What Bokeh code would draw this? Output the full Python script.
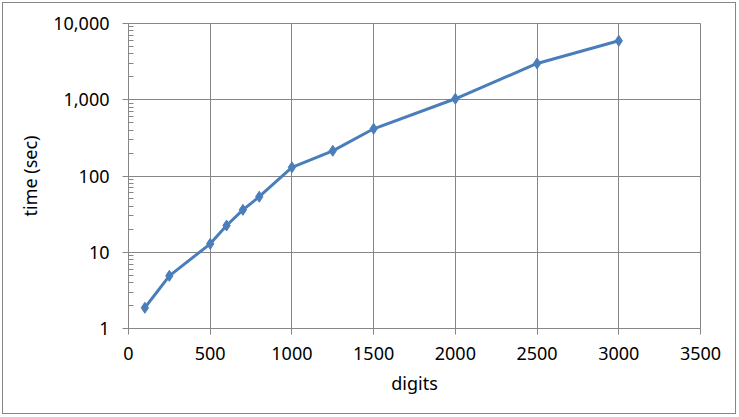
from bokeh.plotting import figure
from bokeh.models import FixedTicker, NumeralTickFormatter, ColumnDataSource
from bokeh.embed import file_html
from bokeh.resources import INLINE

digits = [100, 250, 500, 600, 700, 800, 1000, 1250, 1500, 2000, 2500, 3000]
time_sec = [1.87, 4.9, 12.9, 22.4, 36, 53.5, 130, 214, 416, 1030, 2990, 5930]

x_ticks = [0, 500, 1000, 1500, 2000, 2500, 3000, 3500]
y_ticks = [1, 10, 100, 1000, 10000]
y_minor = [m * d for d in [1, 10, 100, 1000] for m in range(2, 10)]

FONT = "Noto Sans"
GRID = "#868686"
BLUE = "#4A7EBB"

p = figure(width=734, height=412, x_range=(0, 3500), y_range=(1, 10000),
           y_axis_type="log", output_backend="svg", toolbar_location=None,
           min_border_left=125, min_border_right=37, min_border_top=20,
           min_border_bottom=87)
p.styles = {"border": "1px solid #868686", "box-sizing": "border-box",
            "margin-left": "2px", "margin-top": "2px"}

src = ColumnDataSource(dict(x=digits, y=time_sec))
p.line("x", "y", source=src, line_color=BLUE, line_width=3)
p.scatter("x", "y", source=src, marker="diamond", size=11, fill_color=BLUE,
          line_color=BLUE)

p.outline_line_color = GRID
p.outline_line_width = 1

p.xaxis.ticker = FixedTicker(ticks=x_ticks)
p.yaxis.ticker = FixedTicker(ticks=y_ticks, minor_ticks=y_minor)
p.yaxis.formatter = NumeralTickFormatter(format="0,0")

for ax in (p.xaxis[0], p.yaxis[0]):
    ax.axis_line_color = GRID
    ax.major_tick_line_color = GRID
    ax.minor_tick_line_color = GRID
    ax.major_tick_out = 6
    ax.major_tick_in = 0
    ax.major_label_text_font = FONT
    ax.major_label_text_font_size = "18px"
    ax.major_label_text_color = "#000000"
    ax.axis_label_text_font = FONT
    ax.axis_label_text_font_size = "18px"
    ax.axis_label_text_font_style = "normal"
    ax.axis_label_text_color = "#000000"

p.xaxis.minor_tick_line_color = None
p.yaxis.minor_tick_in = 5
p.yaxis.minor_tick_out = 0
p.yaxis.major_label_standoff = 13
p.xaxis.major_label_standoff = 12
p.yaxis.axis_label_standoff = 8
p.xaxis.axis_label_standoff = 8
p.xaxis.axis_label = "digits"
p.yaxis.axis_label = "time (sec)"

p.xgrid.ticker = FixedTicker(ticks=x_ticks)
p.ygrid.ticker = FixedTicker(ticks=y_ticks)
p.grid.grid_line_color = GRID
p.grid.grid_line_width = 1

open("out.html", "w").write(file_html(p, INLINE))
